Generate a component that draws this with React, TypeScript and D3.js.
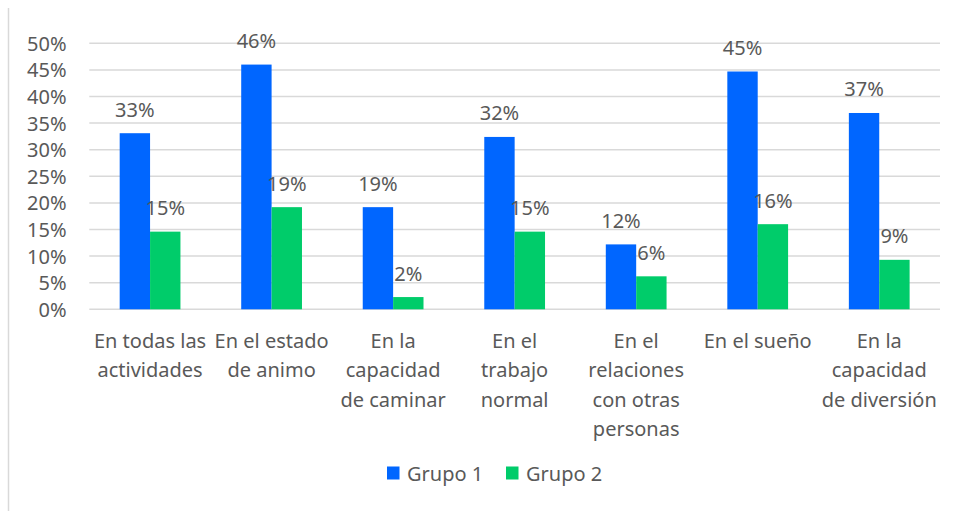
import React from "react";
import * as d3 from "d3";

const categories: string[][] = [
  ["En todas las", "actividades"],
  ["En el estado", "de animo"],
  ["En la", "capacidad", "de caminar"],
  ["En el", "trabajo", "normal"],
  ["En el", "relaciones", "con otras", "personas"],
  ["En el sueño"],
  ["En la", "capacidad", "de diversión"],
];
const grupo1: number[] = [0.331, 0.46, 0.192, 0.324, 0.122, 0.447, 0.369];
const grupo2: number[] = [0.146, 0.192, 0.023, 0.146, 0.062, 0.16, 0.093];
const grupo1Labels: string[] = ["33%", "46%", "19%", "32%", "12%", "45%", "37%"];
const grupo2Labels: string[] = ["15%", "19%", "2%", "15%", "6%", "16%", "9%"];
const yTicks: number[] = [0, 0.05, 0.1, 0.15, 0.2, 0.25, 0.3, 0.35, 0.4, 0.45, 0.5];
const seriesNames: string[] = ["Grupo 1", "Grupo 2"];

const COLORS = ["#0066FF", "#00CC6A"];
const TEXT = "#595959";
const FONT = "'Noto Sans', 'Open Sans', sans-serif";
const FS = 20;

export default function App() {
  const W = 955, H = 511;
  const left = 89.3, right = 940, top = 43.3, bottom = 309.3;
  const x = d3.scaleBand<number>().domain(d3.range(categories.length)).range([left, right]).padding(0);
  const bw = x.bandwidth();
  const xs = d3.scaleBand<number>().domain([0, 1]).range([bw * 0.25, bw * 0.75]).padding(0);
  const y = d3.scaleLinear().domain([0, 0.5]).range([bottom, top]);
  const series = [grupo1, grupo2];
  const labels = [grupo1Labels, grupo2Labels];
  const pct = d3.format(".0%");

  return (
    <svg width={W} height={H} style={{ position: "absolute", left: 0, top: 0, fontFamily: FONT }}>
      <rect x={0} y={0} width={W} height={H} fill="#fff" />
      <line x1={8.5} x2={8.5} y1={8} y2={H} stroke="#d9d9d9" strokeWidth={1.5} />
      {yTicks.map((t) => (
        <g key={t}>
          <line x1={left} x2={right} y1={y(t)} y2={y(t)} stroke="#d9d9d9" strokeWidth={1.5} />
          <text x={66.5} y={y(t)} textAnchor="end" dominantBaseline="central" fontSize={FS} fill={TEXT}>
            {pct(t)}
          </text>
        </g>
      ))}
      {categories.map((_, i) => (
        <g key={i} transform={`translate(${x(i)},0)`}>
          {series.map((s, j) => (
            <rect key={j} x={xs(j)} y={y(s[i])} width={xs.bandwidth()} height={bottom - y(s[i])} fill={COLORS[j]} />
          ))}
          {series.map((s, j) => (
            <text
              key={"l" + j}
              x={(xs(j) as number) + xs.bandwidth() / 2}
              y={y(s[i]) - 24}
              textAnchor="middle"
              dominantBaseline="central"
              fontSize={FS}
              fill={TEXT}
            >
              {labels[j][i]}
            </text>
          ))}
        </g>
      ))}
      {categories.map((lines, i) => (
        <text key={"c" + i} x={(x(i) as number) + bw / 2} textAnchor="middle" fontSize={FS} fill={TEXT}>
          {lines.map((ln, k) => (
            <tspan key={k} x={(x(i) as number) + bw / 2} y={340.7 + k * 29.2} dominantBaseline="central">
              {ln}
            </tspan>
          ))}
        </text>
      ))}
      {seriesNames.map((n, j) => {
        const lx = j === 0 ? 387 : 506;
        return (
          <g key={n}>
            <rect x={lx} y={466.5} width={12.5} height={13} fill={COLORS[j]} />
            <text x={lx + 20} y={473} dominantBaseline="central" fontSize={FS} fill={TEXT}>
              {n}
            </text>
          </g>
        );
      })}
    </svg>
  );
}
